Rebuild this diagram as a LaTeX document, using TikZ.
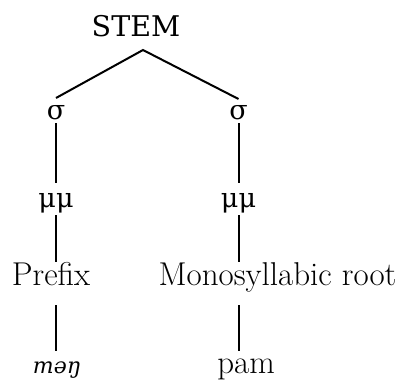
\documentclass[tikz,border=0pt]{standalone}
\usepackage{fontspec}
\newfontfamily\serifgreek{DejaVu Serif}
\begin{document}
\begin{tikzpicture}[x=1pt,y=1pt,
  lbl/.style={inner sep=0pt,outer sep=0pt,anchor=base},
  tmsl/.style={lbl,font=\serifgreek\fontsize{27}{32}\selectfont},
  topl/.style={lbl,font=\serifgreek\fontsize{28.5}{33}\selectfont},
  lml/.style={lbl,font=\fontsize{33}{38}\selectfont},
  ipa/.style={lbl,font=\serifgreek\itshape\fontsize{22}{27}\selectfont},
  branch/.style={line width=2pt}]
\useasboundingbox (0,0) rectangle (406,-383);

% root
\node[topl,text depth=14pt] (stem) at (136,-36) {STEM};

% syllables
\node[tmsl,text height=21pt,text depth=4pt] (sigL) at (56,-119) {σ};
\node[tmsl,text height=20pt,text depth=4pt] (sigR) at (238.5,-119) {σ};

% moras
\node[tmsl,text height=24pt,text depth=8pt] (muL) at (56,-207) {μμ};
\node[tmsl,text height=24pt,text depth=8pt] (muR) at (238.5,-207) {μμ};

% morphemes
\node[lml,text height=23pt,text depth=20pt] (pre) at (51,-285) {Prefix};
\node[lml,text height=23pt,text depth=20pt] (root) at (277.5,-285) {Monosyllabic root};

% segments
\node[ipa,text height=22pt] (menL) at (57,-373) {məŋ};
\node[lml,text height=22pt] (pam) at (246,-373) {pam};

% branches
\draw[branch] (sigL.north) -- ([xshift=7pt]stem.south) -- (sigR.north);
\draw[branch] (sigL.south) -- (muL.north);
\draw[branch] (sigR.south) -- (muR.north);
\draw[branch] (muL.south) -- (muL.south |- pre.north);
\draw[branch] (muR.south) -- (muR.south |- root.north);
\draw[branch] (pre.south -| muL.south) -- (menL.north -| muL.south);
\draw[branch] (root.south -| muR.south) -- (pam.north -| muR.south);
\end{tikzpicture}
\end{document}
